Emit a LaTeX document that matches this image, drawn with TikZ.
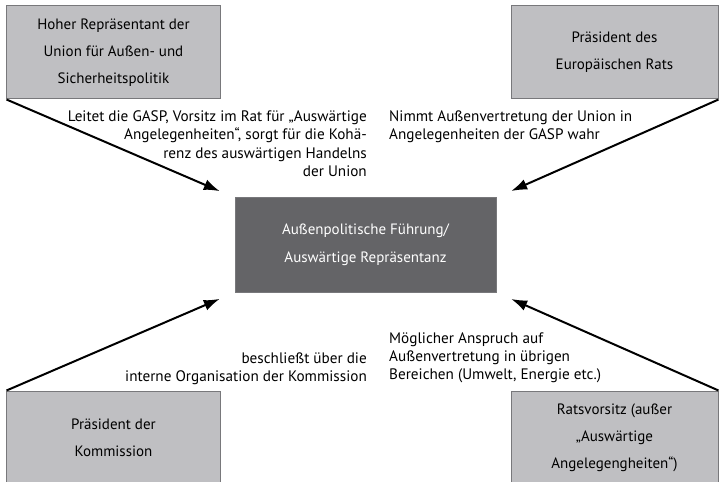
\documentclass[tikz,border=0pt]{standalone}
\usepackage{fontspec}
\setmainfont{PT Sans}
\usetikzlibrary{arrows.meta}
\definecolor{boxgray}{RGB}{191,191,194}
\definecolor{boxline}{RGB}{120,120,123}
\definecolor{leadgray}{RGB}{100,100,103}
\tikzstyle{box}=[draw=boxline, fill=boxgray, line width=1bp, minimum width=213bp, minimum height=93bp, align=center, font=\fontsize{15bp}{27bp}\selectfont]
\tikzstyle{box-lead}=[draw=boxline, fill=leadgray, text=white, line width=1bp, minimum width=261bp, minimum height=94bp, align=center, font=\fontsize{15bp}{28bp}\selectfont]
\tikzstyle{lab}=[inner sep=0pt, font=\fontsize{15.2bp}{18.3bp}\selectfont]
\tikzstyle{arr}=[-{Latex[length=16bp,width=11bp]}, line width=2bp, shorten >=16bp]

\begin{document}
\begin{tikzpicture}[x=1bp,y=-1bp]
	\useasboundingbox (0,0) rectangle (719,482);
	% nodes
	\node [box-lead] (c) at (365.5,245) {Außenpolitische Führung/\\Auswärtige Repräsentanz};
	\node [box] (hr) at (113.5,52.5) {Hoher Repräsentant der\\Union für Außen- und\\Sicherheitspolitik};
	\node [box, minimum width=207bp] (prer) at (614.5,52.5) {Präsident des\\Europäischen Rats};
	\node [box] (pk) at (113.5,437.5) {Präsident der\\Kommission};
	\node [box, minimum width=207bp] (rv) at (614.5,437.5) {Ratsvorsitz (außer\\„Auswärtige\\Angelegengheiten“)};

	\node [lab, align=right, anchor=north east] (lhr) at (367,110.5) {Leitet die GASP, Vorsitz im Rat für „Auswärtige\\Angelegenheiten“, sorgt für die Kohä-\\renz des auswärtigen Handelns\\der Union};
	\node [lab, align=left, anchor=north west] (lprer) at (389,110.5) {Nimmt Außenvertretung der Union in\\Angelegenheiten der GASP wahr};
	\node [lab, align=right, anchor=north east] (lpk) at (367,352.5) {beschließt über die\\interne Organisation der Kommission};
	\node [lab, align=left, anchor=north west] (lrv) at (389,332) {Möglicher Anspruch auf\\Außenvertretung in übrigen\\Bereichen (Umwelt, Energie etc.)};

	% arrows
	\draw [arr] (hr.south west) -- (c.north west);
	\draw [arr] (prer.south east) -- (c.north east);
	\draw [arr] (pk.north west) -- (c.south west);
	\draw [arr] (rv.north east) -- (c.south east);
\end{tikzpicture}
\end{document}
